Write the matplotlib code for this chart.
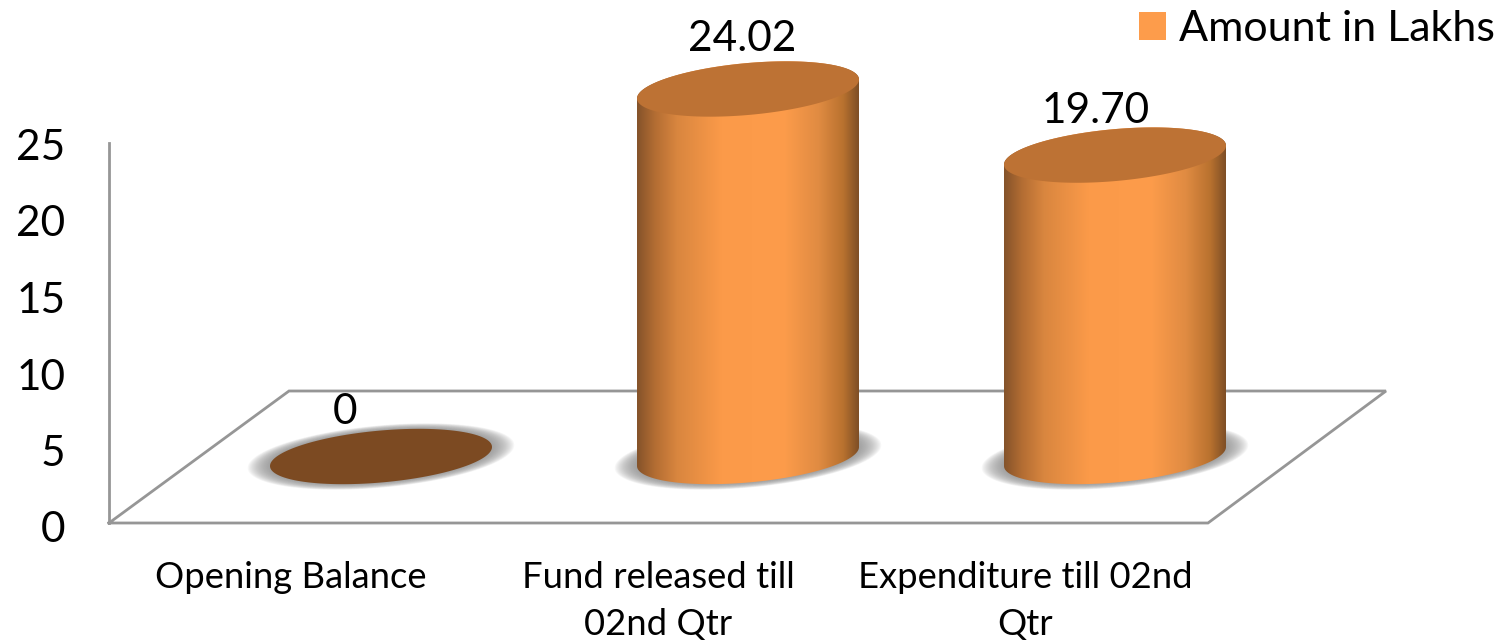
import matplotlib
matplotlib.use('Agg')
import matplotlib.pyplot as plt
import numpy as np
from matplotlib.colors import LinearSegmentedColormap
from matplotlib.patches import Patch, Polygon

plt.rcParams['font.family'] = ['Lato', 'DejaVu Sans']

categories = ['Opening Balance', 'Fund released till\n02nd Qtr', 'Expenditure till 02nd\nQtr']
amounts = [0, 24.02, 19.70]
value_labels = ['0', '24.02', '19.70']
y_ticks = [0, 5, 10, 15, 20, 25]
series_name = 'Amount in Lakhs'

W, H = 1507, 641
PX_X = 367.0   # pixels per category
PX_Y = 15.3    # pixels per unit
X0 = 381.0     # first bar centre, px
Y0 = 527.0     # value 0, px from top

# cylinder shape, in axes units
RX = 111 / PX_X
SKEW = 9.5 / PX_Y
RY = 26 / PX_Y
BASE = 70.5 / PX_Y
FLOOR_Y = 4 / PX_Y
DEPTH = 132 / PX_Y

GREY = '#969696'
TOP = '#bd7234'
EMPTY = '#7c4a22'
ORANGE = '#fd9c4b'
body_cmap = LinearSegmentedColormap.from_list('body', [
    (0.0, '#85532a'), (0.08, '#b36d33'), (0.18, '#d9863f'), (0.38, '#fb9a49'),
    (0.66, '#fd9c4b'), (0.82, '#e08b42'), (0.93, '#b9722f'), (1.0, '#7f4f26')])


def ring(cx, cy, scale=1.0, n=200):
    t = np.linspace(0, 2 * np.pi, n)
    return np.column_stack([cx + scale * RX * np.cos(t),
                            cy + scale * (SKEW * np.cos(t) + RY * np.sin(t))])


fig = plt.figure(figsize=(W / 100, H / 100), dpi=100)
ax = fig.add_axes([0, 0, 1, 1])

# floor
fx0, fx1 = (109 - X0) / PX_X, (1208 - X0) / PX_X
shift = 178 / PX_X
floor = np.array([[fx0, FLOOR_Y], [fx1, FLOOR_Y],
                  [fx1 + shift, FLOOR_Y + DEPTH], [fx0 + 180 / PX_X, FLOOR_Y + DEPTH], [fx0, FLOOR_Y]])
ax.plot(floor[:, 0], floor[:, 1], color=GREY, lw=2, zorder=1, solid_joinstyle='miter')

for i, v in enumerate(amounts):
    # blurry shadow under the base
    for s in np.linspace(1.2, 1.0, 20):
        ax.add_patch(Polygon(ring(i, BASE, s), closed=True, fc='#8c8c8c', ec='none', alpha=0.07, zorder=2))

    top = BASE + v
    if v > 0:
        t = np.linspace(0, np.pi, 100)
        lower = np.column_stack([i + RX * np.cos(t), BASE + SKEW * np.cos(t) - RY * np.sin(t)])
        upper = np.column_stack([i + RX * np.cos(t[::-1]), top + SKEW * np.cos(t[::-1]) + RY * np.sin(t[::-1])])
        outline = Polygon(np.vstack([lower, upper]), closed=True, fc='none', ec='none', transform=ax.transData)
        ax.add_patch(outline)
        grad = np.linspace(0, 1, 256).reshape(1, -1)
        im = ax.imshow(grad, cmap=body_cmap, aspect='auto', zorder=3, interpolation='bilinear',
                       extent=[i - RX, i + RX, BASE - 3, top + 3])
        im.set_clip_path(outline)
    ax.add_patch(Polygon(ring(i, top), closed=True, fc=TOP if v > 0 else EMPTY, ec='none', zorder=4))

# value labels
label_dx = [-36, -6, -19]
label_dy = [44, 50, 44]
for i, v in enumerate(amounts):
    ax.annotate(value_labels[i], (i, BASE + v), xytext=(label_dx[i] * 0.72, label_dy[i] * 0.72),
                textcoords='offset points', ha='center', va='center', fontsize=30.5, color='black', zorder=5)

# category labels sit left of the bars, as on the 3d floor
for i, c in enumerate(categories):
    ax.text(i - 90 / PX_X, (Y0 - 561) / PX_Y, c, ha='center', va='top', fontsize=26.2, color='black', linespacing=1.52)

ax.set_xlim(-X0 / PX_X, (W - X0) / PX_X)
ax.set_ylim((Y0 - H) / PX_Y, Y0 / PX_Y)
ax.set_xticks([])
ax.set_yticks(y_ticks)
ax.tick_params(axis='y', length=0, pad=31.5, labelsize=30.5)
for name in ['top', 'right', 'bottom']:
    ax.spines[name].set_visible(False)
ax.spines['left'].set_position(('data', fx0))
ax.spines['left'].set_bounds(FLOOR_Y, 25.1)
ax.spines['left'].set_color(GREY)
ax.spines['left'].set_linewidth(2)
ax.patch.set_alpha(0)

ax.legend(handles=[Patch(fc=ORANGE, ec='none', label=series_name)], loc='upper right', frameon=False,
          fontsize=31, handlelength=0.63, handleheight=0.63, handletextpad=0.3,
          bbox_to_anchor=(0.9975, 0.998), borderaxespad=0, borderpad=0.2)

fig.savefig('out.png', dpi=100)
